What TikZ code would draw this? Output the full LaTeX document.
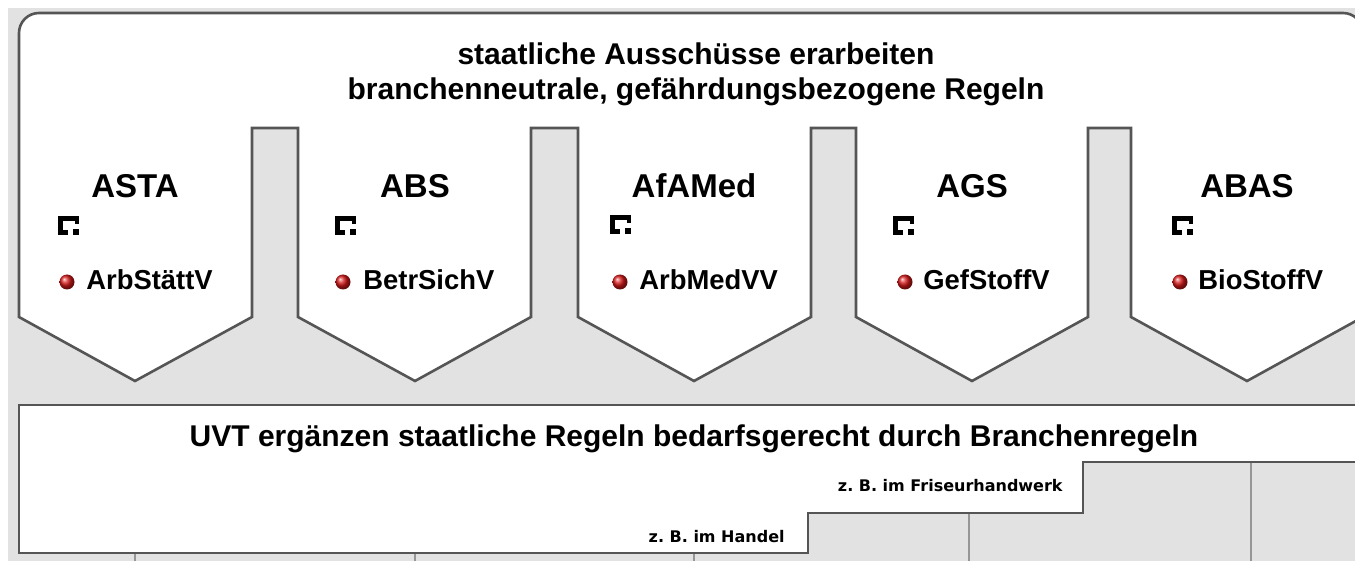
\documentclass[tikz,border=0pt]{standalone}
\usepackage{fontspec}
\setmainfont{Liberation Sans}
\newfontfamily\beispielfont{DejaVu Sans}
\definecolor{rahmengrau}{RGB}{85,85,85}
\definecolor{flaechengrau}{RGB}{226,226,226}
\definecolor{liniengrau}{RGB}{150,150,150}
\definecolor{kugelrot}{RGB}{215,25,25}
\usetikzlibrary{shadings}
\frenchspacing

\begin{document}
\begin{tikzpicture}[x=0.5pt, y=-0.5pt,
    rahmen/.style={draw=rahmengrau, line width=1.3pt, fill=white, line join=miter},
    trenner/.style={draw=liniengrau, line width=0.6pt},
    titel/.style={font=\bfseries\fontsize{15}{18}\selectfont, anchor=base, inner sep=0pt},
    ausschuss/.style={font=\bfseries\fontsize{16.5}{20}\selectfont, anchor=base, inner sep=0pt},
    verordnung/.style={font=\bfseries\fontsize{13.7}{16}\selectfont, anchor=base west, inner sep=0pt},
    beispiel/.style={font=\beispielfont\bfseries\fontsize{8}{10}\selectfont, anchor=base east, inner sep=0pt},
    symbol/.style={draw=black, line width=2.4pt},
    kugel/.style={ball color=kugelrot}]

    \useasboundingbox (0,0) rectangle (1355,561);
    \fill[white] (0,0) rectangle (1355,561);
    \fill[flaechengrau] (8,8) rectangle (1355,561);

    % Spaltenlinien unter dem UVT-Kasten
    \draw[trenner] (135,540) -- (135,561);
    \draw[trenner] (415,540) -- (415,561);
    \draw[trenner] (694,540) -- (694,561);
    \draw[trenner] (969,500) -- (969,561);
    \draw[trenner] (1251,450) -- (1251,561);

    % obere Flaeche: staatliche Ausschuesse
    \draw[rahmen] (19,317) -- (19,33) arc[start angle=180, end angle=270, radius=20]
        -- (1343,13) arc[start angle=270, end angle=360, radius=20]
        -- (1363,317) -- (1247,381) -- (1131,317) -- (1131,128) -- (1088,128)
        -- (1088,317) -- (972,381) -- (856,317) -- (856,128) -- (811,128)
        -- (811,317) -- (694,381) -- (578,317) -- (578,128) -- (531,128)
        -- (531,317) -- (415,381) -- (298,317) -- (298,128) -- (252,128)
        -- (252,317) -- (135,381) -- cycle;

    % untere Flaeche: UVT
    \draw[rahmen] (19,405) -- (1363,405) -- (1363,462) -- (1083,462) -- (1083,513)
        -- (808,513) -- (808,553) -- (19,553) -- cycle;

    \node[titel] (titelA) at (696,65) {staatliche Ausschüsse erarbeiten};
    \node[titel] (titelB) at (696,100) {branchenneutrale, gefährdungsbezogene Regeln};

    \node[ausschuss] (asta) at (135,198) {ASTA};
    \node[ausschuss] (abs) at (415,198) {ABS};
    \node[ausschuss] (afamed) at (694,198) {AfAMed};
    \node[ausschuss] (ags) at (972,198) {AGS};
    \node[ausschuss] (abas) at (1247,198) {ABAS};

    % Bildsymbole
    \draw[symbol, shift={(58,216)}] (10,16.5) -- (2.5,16.5) -- (2.5,2.5) -- (19,2.5) -- (19,8);
    \fill[shift={(58,216)}] (15,13) rectangle (21,19);
    \draw[symbol, shift={(335,216)}] (10,16.5) -- (2.5,16.5) -- (2.5,2.5) -- (19,2.5) -- (19,8);
    \fill[shift={(335,216)}] (15,13) rectangle (21,19);
    \draw[symbol, shift={(610,215)}] (10,16.5) -- (2.5,16.5) -- (2.5,2.5) -- (19,2.5) -- (19,8);
    \fill[shift={(610,215)}] (15,13) rectangle (21,19);
    \draw[symbol, shift={(893,216)}] (10,16.5) -- (2.5,16.5) -- (2.5,2.5) -- (19,2.5) -- (19,8);
    \fill[shift={(893,216)}] (15,13) rectangle (21,19);
    \draw[symbol, shift={(1172,216)}] (10,16.5) -- (2.5,16.5) -- (2.5,2.5) -- (19,2.5) -- (19,8);
    \fill[shift={(1172,216)}] (15,13) rectangle (21,19);

    % Verordnungen
    \shade[kugel] (67,282) circle (7.5);
    \shade[kugel] (343,282) circle (7.5);
    \shade[kugel] (620,282) circle (7.5);
    \shade[kugel] (905,282) circle (7.5);
    \shade[kugel] (1180,282) circle (7.5);
    \node[verordnung] (arbstaettv) at (86,290) {ArbStättV};
    \node[verordnung] (betrsichv) at (363,290) {BetrSichV};
    \node[verordnung] (arbmedvv) at (639,290) {ArbMedVV};
    \node[verordnung] (gefstoffv) at (923,290) {GefStoffV};
    \node[verordnung] (biostoffv) at (1198,290) {BioStoffV};

    \node[titel] (uvt) at (694,446) {UVT ergänzen staatliche Regeln bedarfsgerecht durch Branchenregeln};
    \node[beispiel] (friseur) at (1063,491) {z. B. im Friseurhandwerk};
    \node[beispiel] (handel) at (785,542) {z. B. im Handel};
\end{tikzpicture}
\end{document}
